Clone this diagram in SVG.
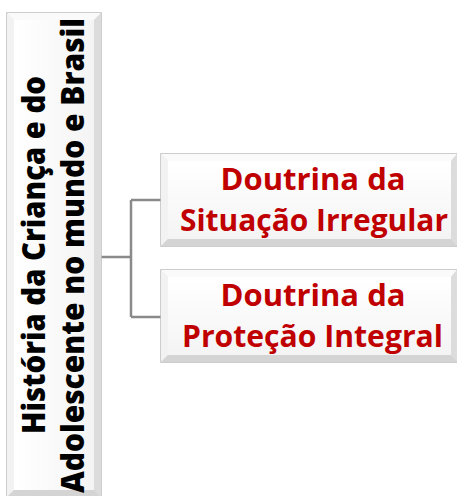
<svg xmlns="http://www.w3.org/2000/svg" width="457" height="496" viewBox="0 0 457 496">
  <defs>
    <linearGradient id="faceV" x1="0" y1="0" x2="0" y2="1">
      <stop offset="0" stop-color="#ffffff"/>
      <stop offset="1" stop-color="#f4f4f4"/>
    </linearGradient>
    <linearGradient id="faceH" x1="0" y1="0" x2="1" y2="0">
      <stop offset="0" stop-color="#ffffff"/>
      <stop offset="1" stop-color="#f4f4f4"/>
    </linearGradient>
  </defs>
  <style>
    .outer { fill: #e6e6e6; stroke: #bdbdbd; stroke-width: 1.5; }
    .bevT { fill: #fafafa; }
    .bevB { fill: #d4d4d4; }
    .bevR { fill: #dcdcdc; }
    .bevL { fill: #f2f2f2; }
    .conn { fill: none; stroke: #8a8a8a; stroke-width: 2.5; }
    .red { font-family: "Liberation Sans Narrow", "Open Sans", sans-serif; font-weight: bold; font-size: 31px; fill: #c00000; text-anchor: middle; }
    .blk { font-family: "Open Sans", "Liberation Sans", sans-serif; font-weight: 800; font-size: 31px; fill: #000000; text-anchor: middle; }
  </style>

  <g id="connectors">
    <path class="conn" d="M101,257 H131 M131,200 V317 M131,200 H161 M131,317 H161"/>
  </g>

  <g id="root">
    <rect class="outer" x="7" y="13" width="94" height="486"/>
    <polygon class="bevT" points="7,13 101,13 94,20 14,20"/>
    <polygon class="bevL" points="7,13 14,20 14,490 7,497"/>
    <polygon class="bevR" points="101,13 94,20 94,490 101,497"/>
    <polygon class="bevB" points="7,497 14,490 94,490 101,497"/>
    <rect x="14" y="20" width="80" height="470" fill="url(#faceH)"/>
    <g transform="translate(45,255) rotate(-90)">
      <text class="blk" x="0" y="0" textLength="358" lengthAdjust="spacingAndGlyphs">História da Criança e do</text>
    </g>
    <g transform="translate(84,255.5) rotate(-90)">
      <text class="blk" x="0" y="0" textLength="475" lengthAdjust="spacingAndGlyphs">Adolescente no mundo e Brasil</text>
    </g>
  </g>

  <g id="node1">
    <rect class="outer" x="161" y="154" width="296" height="92"/>
    <polygon class="bevT" points="161,154 457,154 451,161 168,161"/>
    <polygon class="bevL" points="161,154 168,161 168,239 161,246"/>
    <polygon class="bevR" points="457,154 451,161 451,239 457,246"/>
    <polygon class="bevB" points="161,246 168,239 451,239 457,246"/>
    <rect x="168" y="161" width="283" height="78" fill="url(#faceV)"/>
    <text class="red" x="313" y="190" textLength="185" lengthAdjust="spacingAndGlyphs">Doutrina da</text>
    <text class="red" x="314" y="231" textLength="268" lengthAdjust="spacingAndGlyphs">Situação Irregular</text>
  </g>

  <g id="node2">
    <rect class="outer" x="161" y="270" width="296" height="92"/>
    <polygon class="bevT" points="161,270 457,270 451,277 168,277"/>
    <polygon class="bevL" points="161,270 168,277 168,355 161,362"/>
    <polygon class="bevR" points="457,270 451,277 451,355 457,362"/>
    <polygon class="bevB" points="161,362 168,355 451,355 457,362"/>
    <rect x="168" y="277" width="283" height="78" fill="url(#faceV)"/>
    <text class="red" x="313" y="306" textLength="185" lengthAdjust="spacingAndGlyphs">Doutrina da</text>
    <text class="red" x="312.5" y="347" textLength="261" lengthAdjust="spacingAndGlyphs">Proteção Integral</text>
  </g>
</svg>
